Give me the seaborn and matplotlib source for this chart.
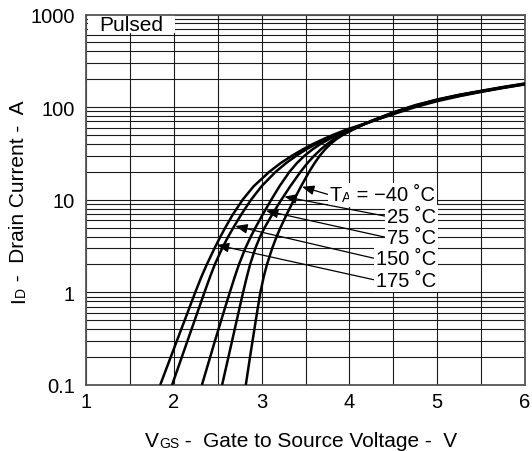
import numpy as np
import pandas as pd
import matplotlib
matplotlib.use("Agg")
import matplotlib.pyplot as plt
import seaborn as sns
from matplotlib.patches import Rectangle
from matplotlib.ticker import FixedLocator, NullFormatter

# Drain current levels (A) and the gate-source voltage (V) of each curve there
current_levels = [0.1, 0.15, 0.2, 0.3, 0.5, 0.7, 1, 1.5, 2, 3, 4, 5, 7, 10,
                  14, 20, 25, 30, 35, 40, 45, 50, 57]
vgs_m40 = [2.82, 2.848, 2.868, 2.897, 2.934, 2.959, 2.986, 3.026, 3.061, 3.121,
           3.171, 3.215, 3.287, 3.369, 3.450, 3.541, 3.605, 3.664, 3.723, 3.784,
           3.850, 3.925, 4.039]
vgs_25 = [2.55, 2.592, 2.622, 2.664, 2.717, 2.752, 2.789, 2.834, 2.869, 2.929,
          2.983, 3.034, 3.123, 3.225, 3.327, 3.443, 3.524, 3.601, 3.675, 3.748,
          3.823, 3.904, 4.024]
vgs_75 = [2.32, 2.375, 2.414, 2.469, 2.540, 2.587, 2.638, 2.697, 2.742, 2.815,
          2.877, 2.930, 3.015, 3.110, 3.204, 3.317, 3.404, 3.491, 3.580, 3.671,
          3.765, 3.864, 4.004]
vgs_150 = [1.98, 2.045, 2.091, 2.156, 2.238, 2.292, 2.349, 2.416, 2.467, 2.551,
           2.620, 2.678, 2.771, 2.880, 3.000, 3.159, 3.282, 3.398, 3.509, 3.620,
           3.730, 3.840, 3.985]
vgs_175 = [1.845, 1.915, 1.965, 2.035, 2.124, 2.182, 2.244, 2.318, 2.376, 2.464,
           2.531, 2.586, 2.675, 2.784, 2.910, 3.087, 3.220, 3.350, 3.470, 3.585,
           3.700, 3.810, 3.960]

# High-current region, where the curves run together
tail_vgs = [4.25, 4.5, 4.75, 5.0, 5.25, 5.5, 5.75, 6.0]
tail_m40 = [71, 88, 105, 121, 136, 150, 165, 180]
tail_25 = [71, 87, 104, 120, 135, 149, 164, 179]
tail_75 = [70, 86, 103, 119, 134, 148, 163, 178]
tail_150 = [70, 85, 102, 118, 133, 147, 162, 177]
tail_175 = [70, 84, 100, 116, 131, 146, 161, 176]

temps = ["-40", "25", "75", "150", "175"]
temp_labels = ["\u221240 \u02daC", "25 \u02daC", "75 \u02daC", "150 \u02daC", "175 \u02daC"]

x_ticks = [1, 2, 3, 4, 5, 6]
y_ticks = [0.1, 1, 10, 100, 1000]
y_tick_labels = ["0.1", "1", "10", "100", "1000"]

rows = []
for t, v, ti in zip(temps,
                    [vgs_m40, vgs_25, vgs_75, vgs_150, vgs_175],
                    [tail_m40, tail_25, tail_75, tail_150, tail_175]):
    for vi, ii in zip(v + tail_vgs, current_levels + ti):
        rows.append({"T": t, "VGS": vi, "ID": ii})
df = pd.DataFrame(rows)

sns.set_theme(style="white")
plt.rcParams["font.family"] = ["Liberation Sans", "DejaVu Sans"]

fig = plt.figure(figsize=(5.32, 4.52), dpi=100)
ax = fig.add_axes([86 / 532, 66 / 452, 439 / 532, 370.5 / 452])

sns.lineplot(data=df, x="VGS", y="ID", units="T", estimator=None, sort=False,
             color="black", lw=1.8, ax=ax, zorder=4,
             solid_joinstyle="round", solid_capstyle="butt")

ax.set_yscale("log")
ax.set_xlim(1, 6)
ax.set_ylim(0.1, 1000)

ax.xaxis.set_major_locator(FixedLocator(x_ticks))
ax.xaxis.set_minor_locator(FixedLocator(np.arange(1.5, 6, 1.0)))
ax.set_xticklabels([str(v) for v in x_ticks])
ax.yaxis.set_major_locator(FixedLocator(y_ticks))
minor_y = [m * 10.0 ** e for e in range(-1, 3) for m in range(2, 10)]
ax.yaxis.set_minor_locator(FixedLocator(minor_y))
ax.yaxis.set_minor_formatter(NullFormatter())
ax.set_yticklabels(y_tick_labels)

ax.tick_params(axis="both", which="both", length=0, labelsize=14.5, colors="black")
ax.tick_params(axis="y", pad=8)
ax.tick_params(axis="x", pad=5)

ax.grid(True, which="both", color="#1a1a1a", lw=0.8, zorder=1)
ax.set_axisbelow(True)
for s in ax.spines.values():
    s.set_color("#555555")
    s.set_linewidth(1.3)
    s.set_visible(True)

ax.set_xlabel("")
ax.set_ylabel("")


def chain(first, parts, rotated=False, box=None):
    """Append text pieces of mixed sizes after a first text, sharing its baseline."""
    prev = first
    for txt, size in parts:
        if rotated:
            prev = ax.annotate(txt, xy=(1, 1), xycoords=prev, ha="right", va="bottom",
                               rotation=90, fontsize=size, color="black")
        else:
            prev = ax.annotate(txt, xy=(1, 0), xycoords=prev, ha="left", va="bottom",
                               fontsize=size, color="black", bbox=box, zorder=5)
    return prev


# x axis title
xl = ax.text(0.135, -0.175, "V", transform=ax.transAxes, ha="left", va="bottom",
             fontsize=15, color="black")
chain(xl, [("GS", 10), (" -  Gate to Source Voltage -  V", 15)])

# y axis title
yl = ax.text(-0.132, 0.224, "I", transform=ax.transAxes, ha="right", va="bottom",
             rotation=90, fontsize=15, color="black")
chain(yl, [("D", 10), (" -  Drain Current -  A", 15)], rotated=True)

# Pulsed tag in the upper-left corner
ax.add_patch(Rectangle((0.004, 0.951), 0.199, 0.047, transform=ax.transAxes,
                       fc="white", ec="none", zorder=2))
ax.text(0.03, 0.972, "Pulsed", transform=ax.transAxes, ha="left", va="center",
        fontsize=15, color="black", zorder=3)

# Temperature labels with arrows to their curves
arrow_tips = [(3.46, 13.8), (3.26, 10.8), (3.05, 7.6), (2.70, 5.2), (2.49, 3.25)]
label_y = [0.513, 0.455, 0.398, 0.341, 0.283]
arrow_kw = dict(arrowstyle="-|>,head_length=0.5,head_width=0.2", color="black",
                lw=0.9, shrinkA=0, shrinkB=0, relpos=(0, 0.5))
box = dict(fc="white", ec="none", pad=1.5)

for i, (tip, yy, lab) in enumerate(zip(arrow_tips, label_y, temp_labels)):
    if i == 0:
        t0 = ax.annotate("T", xy=tip, xycoords="data", xytext=(0.555, yy),
                         textcoords="axes fraction", ha="left", va="center",
                         fontsize=14.5, color="black", bbox=box,
                         arrowprops=arrow_kw, zorder=5)
        chain(t0, [("A", 10), (" = " + lab, 14.5)], box=box)
    else:
        ax.annotate(lab, xy=tip, xycoords="data", xytext=(0.797, yy),
                    textcoords="axes fraction", ha="right", va="center",
                    fontsize=14.5, color="black", bbox=box,
                    arrowprops=arrow_kw, zorder=5)

fig.savefig("out.png", dpi=100, facecolor="white")
